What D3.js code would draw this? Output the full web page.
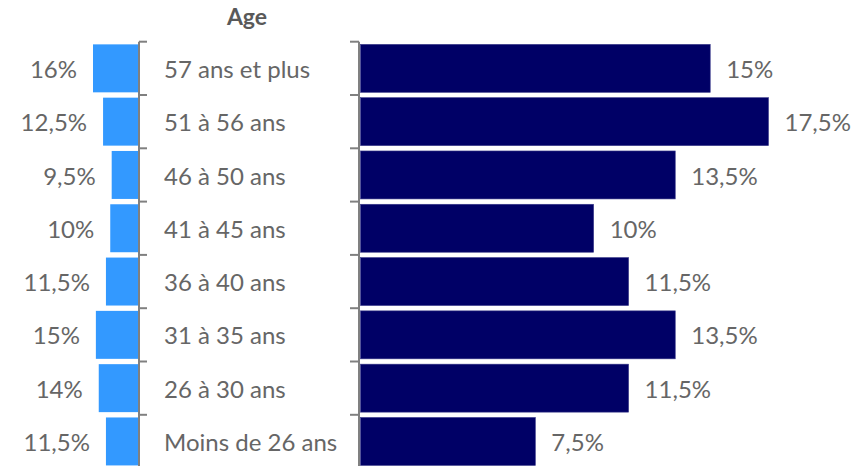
<!DOCTYPE html>
<html>
<head>
<meta charset="utf-8">
<script src="https://cdn.jsdelivr.net/npm/d3@7"></script>
<style>
  body { margin: 0; background: #fff; }
  text { font-family: Lato, "Open Sans", sans-serif; fill: #666; }
</style>
</head>
<body>
<div id="chart"></div>
<script>
// age brackets, top to bottom
const categories = ["57 ans et plus", "51 à 56 ans", "46 à 50 ans", "41 à 45 ans",
                    "36 à 40 ans", "31 à 35 ans", "26 à 30 ans", "Moins de 26 ans"];
const leftValues = [16, 12.5, 9.5, 10, 11.5, 15, 14, 11.5];
const rightValues = [15, 17.5, 13.5, 10, 11.5, 13.5, 11.5, 7.5];
const title = "Age";

const width = 860,
      height = 466;

const leftAxisX = 139,
      rightAxisX = 359,
      chartTop = 41.7,
      step = 53.3;

const data = categories.map((c, i) => ({ cat: c, left: leftValues[i], right: rightValues[i] }));

// french decimal comma
const fr = d3.formatLocale({ decimal: ",", thousands: " ", grouping: [3], currency: ["", " €"] });
const fmt = v => fr.format(".1~f")(v) + "%";

let svg = d3.select("#chart")
    .append("svg")
    .attr("width", width)
    .attr("height", height)
    .attr("viewBox", [0, 0, width, height]);

// band scale, bands touch so the tick marks sit on the boundaries
let y = d3.scaleBand()
    .domain(categories)
    .range([chartTop, chartTop + step * categories.length])
    .paddingInner(0.1)
    .paddingOuter(0.05);

let xLeft = d3.scaleLinear()
    .domain([0, 16])
    .range([0, 46]);

let xRight = d3.scaleLinear()
    .domain([0, 17.5])
    .range([0, 408]);

const boundary = d => y(d) - y.step() * 0.05;

// left bars grow leftwards
svg.append("g")
    .selectAll("rect")
    .data(data)
    .join("rect")
    .attr("fill", "#3399ff")
    .attr("x", d => leftAxisX - xLeft(d.left))
    .attr("y", d => y(d.cat))
    .attr("width", d => xLeft(d.left))
    .attr("height", y.bandwidth());

svg.append("g")
    .selectAll("text")
    .data(data)
    .join("text")
    .attr("x", d => leftAxisX - xLeft(d.left) - 16)
    .attr("y", d => y(d.cat) + y.bandwidth() / 2)
    .attr("dy", "0.4em")
    .attr("text-anchor", "end")
    .style("font-size", "24px")
    .text(d => fmt(d.left));

// right bars
svg.append("g")
    .selectAll("rect")
    .data(data)
    .join("rect")
    .attr("fill", "#000066")
    .attr("stroke", "#3a3a8a")
    .attr("stroke-width", 0.6)
    .attr("x", rightAxisX + 1.5)
    .attr("y", d => y(d.cat))
    .attr("width", d => xRight(d.right))
    .attr("height", y.bandwidth());

svg.append("g")
    .selectAll("text")
    .data(data)
    .join("text")
    .attr("x", d => rightAxisX + 1.5 + xRight(d.right) + 16)
    .attr("y", d => y(d.cat) + y.bandwidth() / 2)
    .attr("dy", "0.4em")
    .style("font-size", "24px")
    .text(d => fmt(d.right));

// axes lines with ticks at band boundaries
const axisColor = "#808080";
[[leftAxisX, 8], [rightAxisX, -9]].forEach(([ax, t]) => {
    let g = svg.append("g").attr("stroke", axisColor).attr("stroke-width", 2);
    g.append("line")
        .attr("x1", ax).attr("x2", ax)
        .attr("y1", chartTop).attr("y2", height);
    g.selectAll(".tick")
        .data(categories)
        .join("line")
        .attr("class", "tick")
        .attr("x1", ax).attr("x2", ax + t)
        .attr("y1", d => boundary(d)).attr("y2", d => boundary(d));
});

// category labels between the two axes
svg.append("g")
    .selectAll("text")
    .data(categories)
    .join("text")
    .attr("x", 164)
    .attr("y", d => y(d) + y.bandwidth() / 2)
    .attr("dy", "0.4em")
    .style("font-size", "24px")
    .text(d => d);

svg.append("text")
    .attr("x", (leftAxisX + rightAxisX) / 2 - 2)
    .attr("y", 25)
    .attr("text-anchor", "middle")
    .style("font-size", "23px")
    .style("font-weight", "bold")
    .style("fill", "#595959")
    .text(title);
</script>
</body>
</html>
